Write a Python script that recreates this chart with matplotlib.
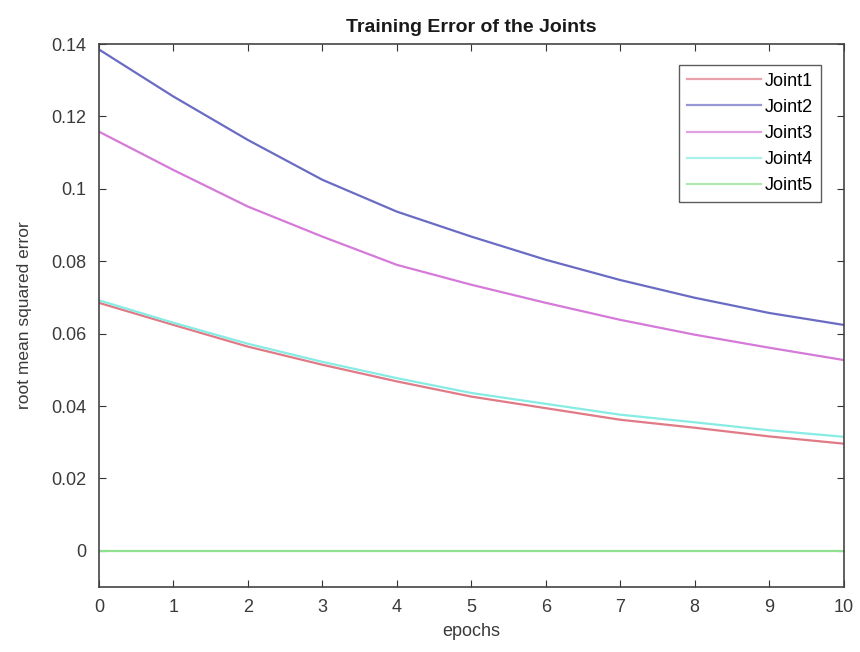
import matplotlib
matplotlib.use("Agg")
import matplotlib.pyplot as plt

epochs = [0, 1, 2, 3, 4, 5, 6, 7, 8, 9, 10]
joint1 = [0.0685, 0.0624, 0.0564, 0.0514, 0.0468, 0.0426, 0.0394, 0.0362, 0.0340, 0.0316, 0.0296]
joint2 = [0.1385, 0.1255, 0.1135, 0.1025, 0.0937, 0.0868, 0.0804, 0.0748, 0.0699, 0.0657, 0.0624]
joint3 = [0.1158, 0.1052, 0.0951, 0.0868, 0.0790, 0.0735, 0.0685, 0.0638, 0.0597, 0.0561, 0.0527]
joint4 = [0.0692, 0.0630, 0.0572, 0.0522, 0.0477, 0.0436, 0.0406, 0.0376, 0.0355, 0.0333, 0.0315]
joint5 = [0.0, 0.0, 0.0, 0.0, 0.0, 0.0, 0.0, 0.0, 0.0, 0.0, 0.0]

series = [
    ("Joint1", joint1, "#e07a86"),
    ("Joint2", joint2, "#6a6cc4"),
    ("Joint3", joint3, "#d57ad8"),
    ("Joint4", joint4, "#86ece4"),
    ("Joint5", joint5, "#8fe08f"),
]

plt.rcParams["font.family"] = ["Liberation Sans", "DejaVu Sans"]

fig = plt.figure(figsize=(8.6, 6.52), dpi=100)
ax = fig.add_axes([0.115, 0.0997, 0.866, 0.8328])

for name, vals, col in series:
    ax.plot(epochs, vals, color=col, lw=1.6, label=name)

ax.set_xlim(0, 10)
ax.set_ylim(-0.01, 0.14)
ax.set_xticks(range(0, 11))
ax.set_yticks([0, 0.02, 0.04, 0.06, 0.08, 0.1, 0.12, 0.14])
ax.set_yticklabels(["0", "0.02", "0.04", "0.06", "0.08", "0.1", "0.12", "0.14"])

ax.tick_params(direction="in", length=5, width=0.8, colors="#333333",
               labelsize=13, labelcolor="#3a3a3a", top=True, right=True, pad=9)
for s in ax.spines.values():
    s.set_color("#444444")
    s.set_linewidth(1.2)

ax.set_xlabel("epochs", fontsize=13, color="#3a3a3a", labelpad=5)
ax.set_ylabel("root mean squared error", fontsize=12.5, color="#3a3a3a", labelpad=14)
ax.set_title("Training Error of the Joints", fontsize=14, fontweight="bold",
             color="#1a1a1a", pad=9)

leg = ax.legend(loc="upper right", bbox_to_anchor=(0.969, 0.962), fontsize=13,
                frameon=True, fancybox=False, edgecolor="#333333",
                handlelength=4.1, handletextpad=0.2, labelspacing=0.5,
                borderpad=0.45, borderaxespad=0)
leg.get_frame().set_linewidth(1.0)
for h in leg.get_lines():
    h.set_alpha(0.7)

fig.savefig("out.png", dpi=100)
